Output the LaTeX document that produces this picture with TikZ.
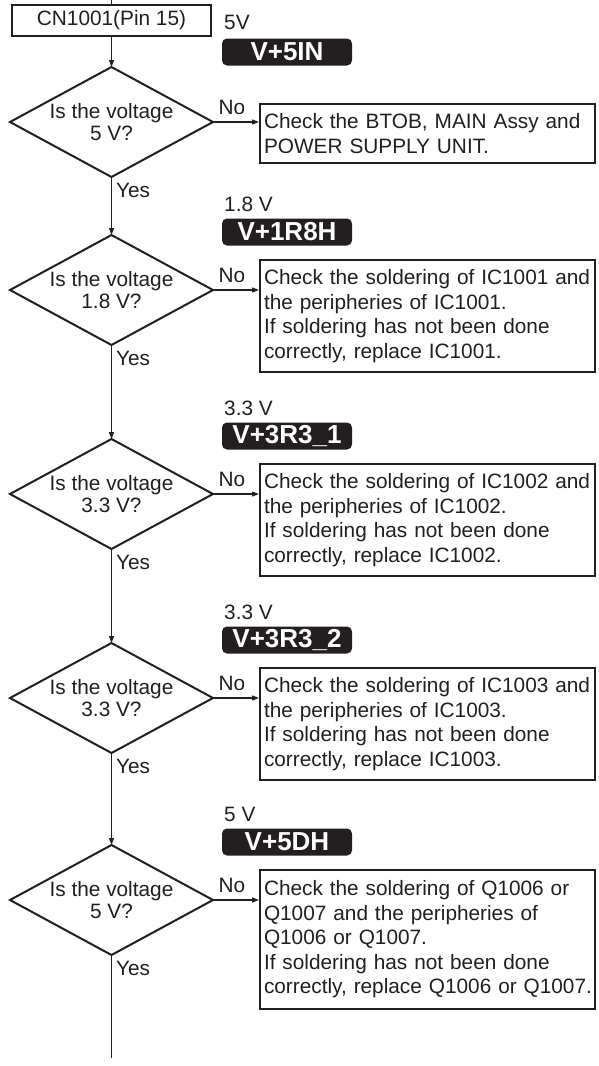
\documentclass[tikz,border=0pt]{standalone}
\usepackage{fontspec}
\setmainfont{Liberation Sans}
\usetikzlibrary{shapes.geometric,arrows.meta}
\definecolor{ink}{HTML}{231F20}
\newcommand{\oneline}[1]{\mbox{#1}}
\begin{document}
\begin{tikzpicture}[x=1pt,y=-1pt,
  every node/.style={text=ink, font=\fontsize{20.8}{24.5}\selectfont},
  decision/.style={diamond, shape aspect=1.85, draw=ink, line width=2pt, minimum width=203pt, minimum height=110pt, inner sep=0pt, outer sep=0pt, align=center, font=\fontsize{20.8}{22}\selectfont},
  result/.style={rectangle, draw=ink, line width=2pt, text width=327pt, inner xsep=4pt, inner ysep=0pt, align=left, minimum width=335pt},
  tag/.style={fill=ink, rounded corners=5pt, minimum width=130pt, minimum height=27pt, inner sep=0pt, text=white, font=\fontsize{26}{26}\selectfont\bfseries},
  conn/.style={draw=ink, line width=1.2pt},
  arr/.style={conn, -{Triangle[length=7pt,width=5pt]}},
  lbl/.style={inner sep=0pt},
  volt/.style={inner sep=0pt, anchor=west},
]
\fill[white] (0,0) rectangle (599,1066);
\useasboundingbox (0,0) rectangle (599,1066);

% start
\coordinate (top) at (111.5,0);
\node[draw=ink, line width=1.8pt, minimum width=199pt, minimum height=31pt, inner sep=0pt] (cn) at (111.5,20.5) {CN1001(Pin 15)};
\node[volt] (v1) at (224,22) {5V};
\node[tag] (t1) at (287,52) {V+5IN};

% decisions
\node[decision] (d1) at (111.5,122) {Is the voltage\\5 V?};
\node[decision] (d2) at (111.5,290) {Is the voltage\\1.8 V?};
\node[decision] (d3) at (111.5,494) {Is the voltage\\3.3 V?};
\node[decision] (d4) at (111.5,698) {Is the voltage\\3.3 V?};
\node[decision] (d5) at (111.5,900) {Is the voltage\\5 V?};

% voltage labels
\node[volt] (v2) at (224,204) {1.8 V};
\node[tag] (t2) at (287,232) {V+1R8H};
\node[volt] (v3) at (224,408) {3.3 V};
\node[tag] (t3) at (287,436) {V+3R3\_1};
\node[volt] (v4) at (224,612) {3.3 V};
\node[tag] (t4) at (287,640) {V+3R3\_2};
\node[volt] (v5) at (224,814) {5 V};
\node[tag] (t5) at (287,842) {V+5DH};

% result boxes
\node[result, minimum height=59pt] (b1) at (427.5,133.5) {\oneline{Check the BTOB, MAIN Assy and}\\\oneline{POWER SUPPLY UNIT.}};
\node[result, minimum height=112pt] (b2) at (427.5,316) {\oneline{Check the soldering of IC1001 and}\\\oneline{the peripheries of IC1001.}\\\oneline{If soldering has not been done}\\\oneline{correctly, replace IC1001.}};
\node[result, minimum height=112pt] (b3) at (427.5,520) {\oneline{Check the soldering of IC1002 and}\\\oneline{the peripheries of IC1002.}\\\oneline{If soldering has not been done}\\\oneline{correctly, replace IC1002.}};
\node[result, minimum height=112pt] (b4) at (427.5,724) {\oneline{Check the soldering of IC1003 and}\\\oneline{the peripheries of IC1003.}\\\oneline{If soldering has not been done}\\\oneline{correctly, replace IC1003.}};
\node[result, minimum height=139pt] (b5) at (427.5,939.5) {\oneline{Check the soldering of Q1006 or}\\\oneline{Q1007 and the peripheries of}\\\oneline{Q1006 or Q1007.}\\\oneline{If soldering has not been done}\\\oneline{correctly, replace Q1006 or Q1007.}};

\coordinate (end) at (111.5,1058);

% connectors
\draw[conn] (top) -- (cn);
\draw[arr] (cn) -- (d1);
\draw[arr] (d1) -- (d2);
\draw[arr] (d2) -- (d3);
\draw[arr] (d3) -- (d4);
\draw[arr] (d4) -- (d5);
\draw[conn] (d5) -- (end);

\foreach \i in {1,...,5}{
  \draw[arr] (d\i.east) -- (d\i.east -| b\i.west);
}

% No / Yes labels
\node[lbl] (no1) at (232,107) {No};
\node[lbl] (no2) at (232,275) {No};
\node[lbl] (no3) at (232,479) {No};
\node[lbl] (no4) at (232,683) {No};
\node[lbl] (no5) at (232,885) {No};
\node[lbl] (y1) at (133,190) {Yes};
\node[lbl] (y2) at (133,358) {Yes};
\node[lbl] (y3) at (133,562) {Yes};
\node[lbl] (y4) at (133,766) {Yes};
\node[lbl] (y5) at (133,968) {Yes};
\end{tikzpicture}
\end{document}
